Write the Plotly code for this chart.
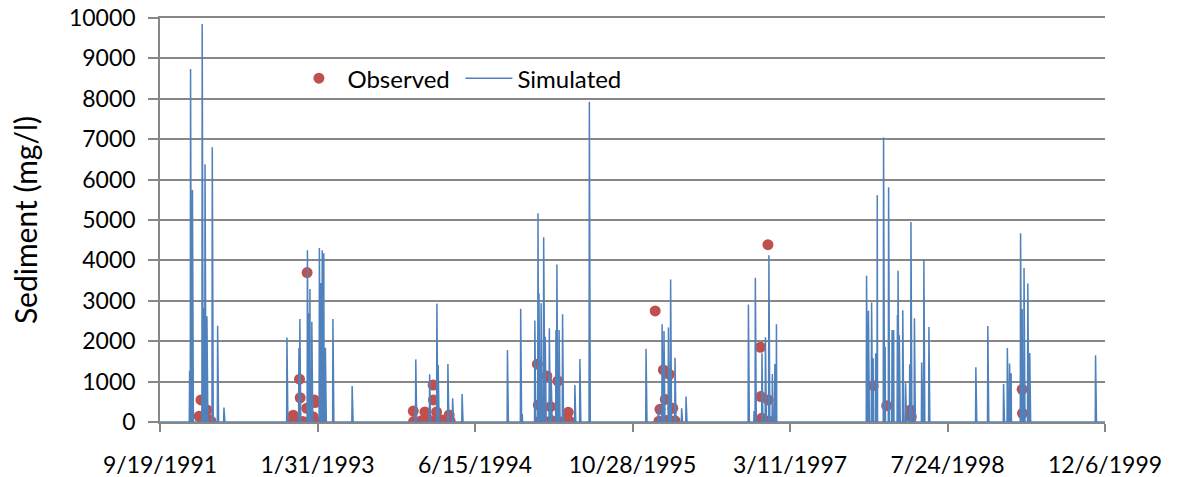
import pandas as pd
import plotly.graph_objects as go

# ---- Simulated daily sediment: dates of spikes and their peak values (mg/l); other days are 0
sim_dates = [
    "1991-12-22", "1991-12-25", "1991-12-31", "1992-01-31", "1992-02-06", "1992-02-09",
    "1992-02-15", "1992-03-03", "1992-03-20", "1992-04-09",
    "1992-10-26", "1992-12-03", "1992-12-06", "1992-12-30", "1993-01-04", "1993-01-07",
    "1993-01-13", "1993-02-06", "1993-02-11", "1993-02-15", "1993-02-20", "1993-02-25",
    "1993-03-21", "1993-03-23", "1993-05-21",
    "1993-12-09", "1994-01-22", "1994-02-14", "1994-02-18", "1994-03-21", "1994-04-05",
    "1994-05-05",
    "1994-09-26", "1994-11-07", "1994-11-12", "1994-12-22", "1995-01-01", "1995-01-04",
    "1995-01-11", "1995-01-19", "1995-01-20", "1995-01-24", "1995-02-06", "1995-02-12",
    "1995-02-27", "1995-03-02", "1995-03-09", "1995-03-20", "1995-04-28", "1995-05-14",
    "1995-06-13",
    "1995-12-10", "1996-01-18", "1996-01-30", "1996-02-05", "1996-02-19", "1996-02-26",
    "1996-03-11", "1996-04-01", "1996-04-15",
    "1996-10-30", "1996-11-17", "1996-11-21", "1996-12-12", "1996-12-23", "1997-01-03",
    "1997-01-14", "1997-01-22", "1997-01-27",
    "1997-11-09", "1997-11-15", "1997-11-25", "1997-11-30", "1997-12-08", "1997-12-13",
    "1998-01-02", "1998-01-07", "1998-01-18", "1998-01-29", "1998-02-03", "1998-02-15",
    "1998-02-17", "1998-02-21", "1998-03-04", "1998-03-13", "1998-03-26", "1998-03-30",
    "1998-04-10", "1998-05-03", "1998-05-10", "1998-05-26",
    "1998-10-22", "1998-11-29", "1999-01-18", "1999-01-30", "1999-02-06", "1999-02-11",
    "1999-03-13", "1999-03-18", "1999-03-24", "1999-04-05", "1999-04-11", "1999-11-06",
]
sim_values = [
    1270, 8740, 5740, 9850, 2820, 6380,
    2620, 6800, 2380, 360,
    2090, 1830, 2550, 4250, 2690, 3290,
    2480, 4310, 3440, 4250, 4180, 1840,
    2550, 1580, 890,
    1550, 1180, 2930, 1410, 1435, 585,
    690,
    1780, 2800, 200, 2510, 5165, 3185,
    2940, 4570, 3040, 2110, 2320, 1080,
    2280, 3900, 2280, 2665, 915, 1560,
    7930,
    1810, 380, 2420, 2250, 2340, 3530,
    1590, 340, 630,
    2910, 270, 3570, 1700, 2095, 4130,
    1190, 1435, 2420,
    3620, 2755, 2960, 1575, 1700, 5610,
    7045, 1865, 5810, 2280, 2280, 2650,
    3745, 2150, 2765, 960, 1430, 4950,
    2565, 1475, 4025, 2350,
    1355, 2375, 940, 1830, 1450, 1205,
    4670, 2800, 3810, 3430, 1710, 1650,
]

# ---- Observed samples
obs_dates = [
    "1992-01-21", "1992-01-27", "1992-02-02", "1992-02-09", "1992-02-15", "1992-02-21", "1992-02-28",
    "1992-11-11", "1992-11-15", "1992-11-27", "1992-12-05", "1992-12-07", "1992-12-16",
    "1992-12-28", "1992-12-29", "1993-01-07", "1993-01-17", "1993-01-21", "1993-01-23", "1993-01-26",
    "1993-12-01", "1993-12-02", "1993-12-26", "1994-01-07", "1994-01-10", "1994-01-23",
    "1994-02-02", "1994-02-03", "1994-02-05", "1994-02-13", "1994-02-24", "1994-03-18",
    "1994-03-25", "1994-03-28",
    "1994-12-30", "1995-01-02", "1995-01-07", "1995-01-13", "1995-01-29", "1995-02-03",
    "1995-02-10", "1995-02-14", "1995-03-05", "1995-03-14", "1995-03-31", "1995-04-07", "1995-04-13",
    "1996-01-08", "1996-01-20", "1996-01-23", "1996-02-02", "1996-02-03", "1996-02-09",
    "1996-02-14", "1996-02-22", "1996-02-27", "1996-03-04", "1996-03-11",
    "1996-12-07", "1996-12-08", "1996-12-11", "1996-12-31", "1997-01-01", "1997-01-02",
    "1997-11-30", "1998-01-12", "1998-03-29", "1998-03-31",
    "1999-03-18", "1999-03-19",
]
obs_values = [
    140, 545, 30, 80, 300, 60, 20,
    0, 170, 20, 1060, 600, 10,
    340, 3700, 30, 130, 545, 480, 0,
    270, 10, 30, 250, 20, 40,
    915, 545, 30, 250, 60, 80,
    175, 30,
    1430, 420, 20, 75, 1140, 0,
    380, 30, 1015, 0, 50, 240, 10,
    2750, 20, 315, 10, 1290, 560,
    40, 1180, 20, 340, 30,
    1850, 630, 90, 4390, 545, 25,
    900, 405, 300, 130,
    810, 215,
]

# ---- Axis ticks
x_tick_dates = ["1991-09-19", "1993-01-31", "1994-06-15", "1995-10-28",
                "1997-03-11", "1998-07-24", "1999-12-06"]
x_tick_labels = ["9/19/1991", "1/31/1993", "6/15/1994", "10/28/1995",
                 "3/11/1997", "7/24/1998", "12/6/1999"]
y_ticks = [0, 1000, 2000, 3000, 4000, 5000, 6000, 7000, 8000, 9000, 10000]
y_tick_labels = ["0", "1000", "2000", "3000", "4000", "5000", "6000", "7000", "8000", "9000", "10000"]

# Daily simulated series (0 on days without a listed spike)
days = pd.date_range("1991-09-19", "1999-12-06", freq="D")
sim = pd.Series(0.0, index=days)
sim.loc[pd.to_datetime(sim_dates)] = sim_values

FONT = "Lato, Calibri, Carlito, 'Liberation Sans', sans-serif"
GRID = "#878787"

fig = go.Figure()
fig.add_trace(go.Scatter(
    x=pd.to_datetime(obs_dates), y=obs_values, mode="markers", name="Observed",
    marker=dict(color="#C0504D", size=11, line=dict(width=0)),
))
fig.add_trace(go.Scatter(
    x=sim.index, y=sim.values, mode="lines", name="Simulated",
    line=dict(color="#4F81BD", width=1.5),
))

fig.update_layout(
    width=1178, height=477,
    margin=dict(l=160, r=73, t=18, b=55, autoexpand=False),
    paper_bgcolor="white", plot_bgcolor="white",
    font=dict(family=FONT, size=23, color="#000000"),
    showlegend=True,
    legend=dict(orientation="h", x=0.138, y=0.85, xanchor="left", yanchor="middle",
                bgcolor="rgba(0,0,0,0)", font=dict(size=24), itemwidth=47,
                entrywidth=108, entrywidthmode="pixels",
                traceorder="normal"),
    xaxis=dict(
        type="date", range=["1991-09-19", "1999-12-06"], automargin=False,
        tickmode="array", tickvals=x_tick_dates, ticktext=x_tick_labels,
        showgrid=False, zeroline=False,
        # mirrored line stands in for the top (10000) gridline, which plotly drops at the edge
        showline=True, mirror=True, linecolor=GRID, linewidth=1.8,
        ticks="outside", ticklen=8, tickwidth=1.5, tickcolor=GRID,
        ticklabelstandoff=13, tickfont=dict(size=23),
    ),
    yaxis=dict(
        range=[0, 10000], tickmode="array", tickvals=y_ticks, ticktext=y_tick_labels,
        automargin=False, ticklabeloverflow="allow",
        showgrid=True, gridcolor=GRID, gridwidth=1.8, zeroline=False,
        showline=True, linecolor=GRID, linewidth=1.5,
        ticks="outside", ticklen=10, tickwidth=1.5, tickcolor=GRID,
        ticklabelstandoff=8, tickfont=dict(size=23),
        title=dict(text="Sediment (mg/l)", font=dict(size=30), standoff=22),
    ),
)

# remove the browser's default 8px body margin so the figure fills the window
fig.write_html("out.html", config={"displayModeBar": False},
               post_script="document.body.style.margin='0';document.body.style.overflow='hidden';")
